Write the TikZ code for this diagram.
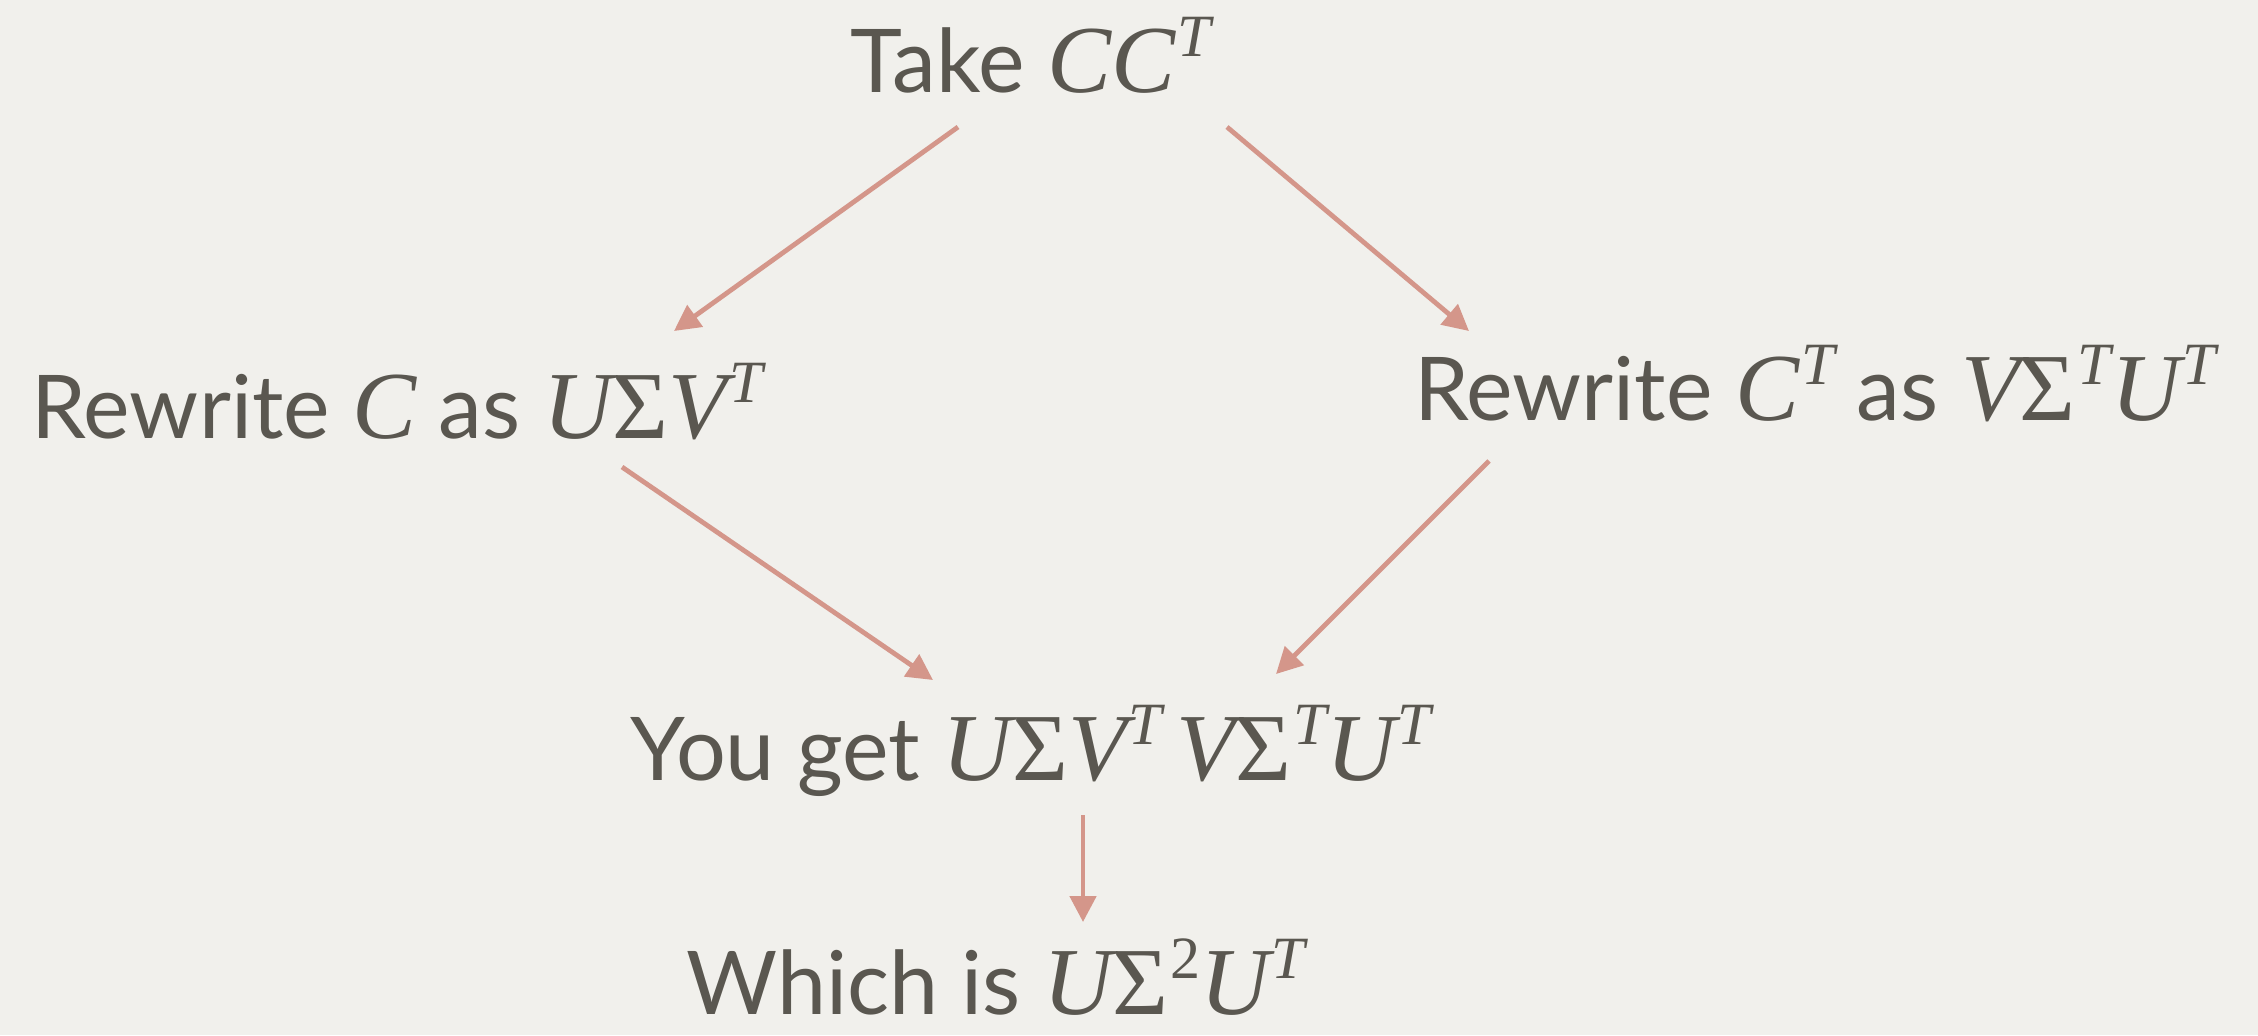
\documentclass[tikz,border=0pt]{standalone}
\usepackage{fontspec}
\setmainfont{Lato}
\newfontfamily\mf{Liberation Serif}
\usetikzlibrary{arrows.meta,calc}
\definecolor{bg}{HTML}{F1F0EC}
\definecolor{ink}{HTML}{5A5750}
\definecolor{arrc}{HTML}{D4968A}
\newcommand\mv[1]{{\mf\itshape\fontsize{48}{48}\selectfont #1}}
\newcommand\sg{{\mf\fontsize{48}{48}\selectfont Σ}}
\newcommand\su[1]{\kern1pt\raisebox{18pt}{\mf\itshape\fontsize{30}{30}\selectfont #1}}
\tikzset{
  lbl/.style={text=ink, anchor=base, inner sep=0pt, font=\fontsize{44}{44}\selectfont},
  arr/.style={draw=arrc, line width=2.4pt, -{Triangle[length=13pt,width=13pt]}}
}
\begin{document}
\begin{tikzpicture}[x=0.5pt,y=-0.5pt]
\useasboundingbox (0,0) rectangle (2258,1035);
\fill[bg] (0,0) rectangle (2258,1035);
\node[lbl] (take) at (1031,92) {Take \mv{CC}\su{T}};
\node[lbl] (left) at (397,438) {Rewrite \mv{C} as \mv{U}\sg\mv{V}\su{T}};
\node[lbl] (right) at (1815,420) {Rewrite \mv{C}\su{T} as \mv{V}\sg\su{T}\mv{U}\su{T}};
\node[lbl] (you) at (1031,780) {You get \mv{U}\sg\mv{V}\su{T}\,\mv{V}\sg\su{T}\mv{U}\su{T}};
\node[lbl] (which) at (996,1014) {Which is \mv{U}\sg\su{\upshape 2}\mv{U}\su{T}};
\draw[arr] ($(take.base)+(-73,35)$) -- ($(left.base)+(277,-107)$);
\draw[arr] ($(take.base)+(196,35)$) -- ($(right.base)+(-346,-89)$);
\draw[arr] ($(left.base)+(225,29)$) -- ($(you.base)+(-98,-100)$);
\draw[arr] ($(right.base)+(-326,41)$) -- ($(you.base)+(245,-106)$);
\draw[arr] ($(you.base)+(52,35)$) -- ($(which.base)+(87,-92)$);
\end{tikzpicture}
\end{document}
